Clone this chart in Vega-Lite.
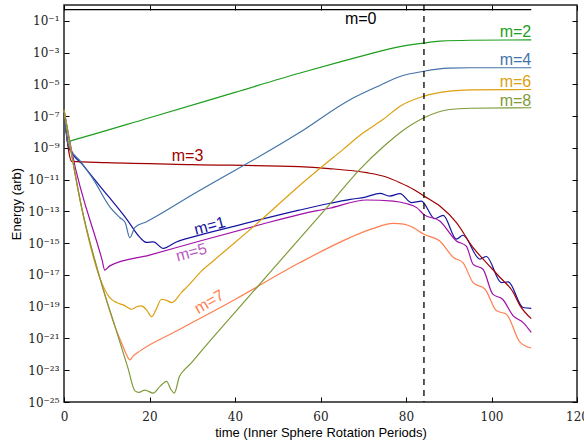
{
  "$schema": "https://vega.github.io/schema/vega-lite/v6.json",
  "width": 513,
  "height": 397,
  "autosize": "none",
  "padding": {"left": 64, "top": 5, "right": 7, "bottom": 43},
  "background": "white",
  "config": {
    "view": {"stroke": "#222222", "strokeWidth": 1.5},
    "axis": {
      "domain": false,
      "grid": false,
      "tickColor": "black",
      "tickWidth": 1,
      "tickSize": -5,
      "labelFlush": false,
      "labelFont": "DejaVu Serif",
      "labelFontSize": 12,
      "labelColor": "#222222",
      "titleFont": "Liberation Sans",
      "titleFontSize": 13,
      "titleFontWeight": "normal",
      "titleColor": "black"
    },
    "text": {"font": "Liberation Sans", "fontSize": 16, "baseline": "middle", "align": "center"}
  },
  "datasets": {
    "lines": [
      {"m": "m=0", "t": 0, "E": 0.513}, {"m": "m=0", "t": 109.3, "E": 0.513},

      {"m": "m=1", "t": 0, "E": 2.51e-7}, {"m": "m=1", "t": 1, "E": 1.26e-9}, {"m": "m=1", "t": 4.5, "E": 7.94e-11},
      {"m": "m=1", "t": 8.4, "E": 3.98e-12}, {"m": "m=1", "t": 14.7, "E": 3.16e-14}, {"m": "m=1", "t": 17.8, "E": 2.24e-15},
      {"m": "m=1", "t": 19.3, "E": 1.12e-15}, {"m": "m=1", "t": 20.9, "E": 1.2e-15}, {"m": "m=1", "t": 23.2, "E": 4.68e-16},
      {"m": "m=1", "t": 26.3, "E": 1.2e-15}, {"m": "m=1", "t": 30.2, "E": 2.51e-15}, {"m": "m=1", "t": 40, "E": 1.2e-14},
      {"m": "m=1", "t": 55, "E": 1.2e-13}, {"m": "m=1", "t": 62, "E": 3.16e-13}, {"m": "m=1", "t": 67, "E": 5.75e-13},
      {"m": "m=1", "t": 70.5, "E": 7.94e-13}, {"m": "m=1", "t": 73.9, "E": 1.38e-12}, {"m": "m=1", "t": 76.2, "E": 9.33e-13},
      {"m": "m=1", "t": 78.6, "E": 1.32e-12}, {"m": "m=1", "t": 81.3, "E": 3.55e-13}, {"m": "m=1", "t": 83.6, "E": 4.47e-13},
      {"m": "m=1", "t": 86.7, "E": 3.55e-14}, {"m": "m=1", "t": 88.7, "E": 5.62e-14}, {"m": "m=1", "t": 91.8, "E": 1.78e-15},
      {"m": "m=1", "t": 93.3, "E": 3.16e-15}, {"m": "m=1", "t": 97.3, "E": 1e-16}, {"m": "m=1", "t": 98.8, "E": 1.45e-16},
      {"m": "m=1", "t": 102.3, "E": 3.31e-18}, {"m": "m=1", "t": 103.9, "E": 3.63e-18}, {"m": "m=1", "t": 107.4, "E": 8.91e-20},
      {"m": "m=1", "t": 109.3, "E": 7.94e-20},

      {"m": "m=2", "t": 0, "E": 2.51e-7}, {"m": "m=2", "t": 1, "E": 2.51e-9}, {"m": "m=2", "t": 1.8, "E": 2.88e-9},
      {"m": "m=2", "t": 20, "E": 7.94e-8},
      {"m": "m=2", "t": 40, "E": 3.16e-6}, {"m": "m=2", "t": 55, "E": 5.01e-5}, {"m": "m=2", "t": 65, "E": 2.82e-4},
      {"m": "m=2", "t": 72, "E": 8.91e-4}, {"m": "m=2", "t": 78, "E": 2.24e-3}, {"m": "m=2", "t": 84, "E": 3.98e-3},
      {"m": "m=2", "t": 88, "E": 5.25e-3}, {"m": "m=2", "t": 95, "E": 6.03e-3}, {"m": "m=2", "t": 109.3, "E": 6.31e-3},

      {"m": "m=3", "t": 0, "E": 2.51e-7}, {"m": "m=3", "t": 1.8, "E": 1.41e-10}, {"m": "m=3", "t": 10, "E": 1.175e-10},
      {"m": "m=3", "t": 30, "E": 8.91e-11}, {"m": "m=3", "t": 55, "E": 6.61e-11}, {"m": "m=3", "t": 62, "E": 5.01e-11},
      {"m": "m=3", "t": 70.8, "E": 2.75e-11}, {"m": "m=3", "t": 75, "E": 1.58e-11}, {"m": "m=3", "t": 78.6, "E": 6.46e-12},
      {"m": "m=3", "t": 81.7, "E": 2.51e-12}, {"m": "m=3", "t": 84.2, "E": 9.33e-13}, {"m": "m=3", "t": 87.9, "E": 2.19e-13},
      {"m": "m=3", "t": 91.8, "E": 2.0e-14}, {"m": "m=3", "t": 95.7, "E": 5.25e-16}, {"m": "m=3", "t": 98.8, "E": 6.03e-17},
      {"m": "m=3", "t": 102, "E": 6.92e-18}, {"m": "m=3", "t": 105.1, "E": 7.94e-19}, {"m": "m=3", "t": 106.6, "E": 1.26e-19},
      {"m": "m=3", "t": 109.3, "E": 1.78e-20},

      {"m": "m=4", "t": 0, "E": 2.51e-7}, {"m": "m=4", "t": 1, "E": 1.58e-9}, {"m": "m=4", "t": 4, "E": 1.26e-10},
      {"m": "m=4", "t": 6.9, "E": 1e-11}, {"m": "m=4", "t": 10.8, "E": 1.78e-13}, {"m": "m=4", "t": 13.1, "E": 3.98e-14},
      {"m": "m=4", "t": 14.3, "E": 2.0e-14}, {"m": "m=4", "t": 15.4, "E": 2.24e-15}, {"m": "m=4", "t": 16.6, "E": 1e-14},
      {"m": "m=4", "t": 19.3, "E": 2.24e-14}, {"m": "m=4", "t": 30, "E": 1.12e-12}, {"m": "m=4", "t": 55, "E": 8.91e-9},
      {"m": "m=4", "t": 67, "E": 1.12e-6}, {"m": "m=4", "t": 74, "E": 8.91e-6}, {"m": "m=4", "t": 78.6, "E": 3.16e-5},
      {"m": "m=4", "t": 84.2, "E": 6.76e-5}, {"m": "m=4", "t": 90, "E": 1.047e-4}, {"m": "m=4", "t": 95, "E": 1.12e-4},
      {"m": "m=4", "t": 109.3, "E": 1.12e-4},

      {"m": "m=5", "t": 0, "E": 2.51e-7}, {"m": "m=5", "t": 1.8, "E": 6.31e-10}, {"m": "m=5", "t": 8.9, "E": 8.91e-17},
      {"m": "m=5", "t": 9.55, "E": 2.0e-17},
      {"m": "m=5", "t": 10.7, "E": 3.72e-17}, {"m": "m=5", "t": 20, "E": 1.78e-16}, {"m": "m=5", "t": 31.8, "E": 1.38e-15},
      {"m": "m=5", "t": 45, "E": 1.26e-14}, {"m": "m=5", "t": 55.2, "E": 6.61e-14}, {"m": "m=5", "t": 62, "E": 1.58e-13},
      {"m": "m=5", "t": 70.8, "E": 5.25e-13}, {"m": "m=5", "t": 77, "E": 4.47e-13}, {"m": "m=5", "t": 80, "E": 3.16e-13},
      {"m": "m=5", "t": 82.5, "E": 1.74e-13}, {"m": "m=5", "t": 84.2, "E": 6.31e-14}, {"m": "m=5", "t": 87.9, "E": 2.51e-14},
      {"m": "m=5", "t": 91.8, "E": 1.38e-15}, {"m": "m=5", "t": 94.1, "E": 6.61e-16}, {"m": "m=5", "t": 95.7, "E": 4.68e-17},
      {"m": "m=5", "t": 98, "E": 2.29e-17}, {"m": "m=5", "t": 100.3, "E": 6.17e-19}, {"m": "m=5", "t": 102.6, "E": 2.95e-19},
      {"m": "m=5", "t": 105.1, "E": 2.63e-20}, {"m": "m=5", "t": 107.4, "E": 1e-20}, {"m": "m=5", "t": 109.3, "E": 2.4e-21},

      {"m": "m=6", "t": 0, "E": 2.51e-7}, {"m": "m=6", "t": 4.2, "E": 1.41e-13}, {"m": "m=6", "t": 8.4, "E": 6.31e-18},
      {"m": "m=6", "t": 9.9, "E": 7.94e-19}, {"m": "m=6", "t": 10.7, "E": 3.8e-19}, {"m": "m=6", "t": 12.3, "E": 1.82e-19},
      {"m": "m=6", "t": 14, "E": 1.26e-19}, {"m": "m=6", "t": 15.8, "E": 6.92e-20}, {"m": "m=6", "t": 17, "E": 1e-19},
      {"m": "m=6", "t": 18.1, "E": 1.12e-19}, {"m": "m=6", "t": 19.3, "E": 6.31e-20}, {"m": "m=6", "t": 20.5, "E": 2.4e-20},
      {"m": "m=6", "t": 21.5, "E": 6.31e-20}, {"m": "m=6", "t": 22.8, "E": 2.95e-19}, {"m": "m=6", "t": 24, "E": 2.51e-19},
      {"m": "m=6", "t": 25.2, "E": 1.82e-19}, {"m": "m=6", "t": 27.5, "E": 7.94e-19}, {"m": "m=6", "t": 29.5, "E": 2.82e-18},
      {"m": "m=6", "t": 31.8, "E": 1.41e-17}, {"m": "m=6", "t": 34.9, "E": 7.59e-17}, {"m": "m=6", "t": 45, "E": 1.58e-14},
      {"m": "m=6", "t": 55.2, "E": 4.47e-12}, {"m": "m=6", "t": 65.3, "E": 8.13e-10}, {"m": "m=6", "t": 70, "E": 8.91e-9},
      {"m": "m=6", "t": 74.7, "E": 6.31e-8}, {"m": "m=6", "t": 78.6, "E": 4.27e-7}, {"m": "m=6", "t": 84.2, "E": 1.82e-6},
      {"m": "m=6", "t": 90.2, "E": 3.72e-6}, {"m": "m=6", "t": 95, "E": 4.47e-6}, {"m": "m=6", "t": 109.3, "E": 4.79e-6},

      {"m": "m=7", "t": 0, "E": 2.51e-7}, {"m": "m=7", "t": 4.2, "E": 1.41e-13}, {"m": "m=7", "t": 8.4, "E": 6.31e-18},
      {"m": "m=7", "t": 12, "E": 5.01e-21}, {"m": "m=7", "t": 13.5, "E": 5.01e-22}, {"m": "m=7", "t": 14.5, "E": 1.12e-22},
      {"m": "m=7", "t": 15.4, "E": 4.47e-23}, {"m": "m=7", "t": 16.2, "E": 7.94e-23}, {"m": "m=7", "t": 17.8, "E": 1.66e-22},
      {"m": "m=7", "t": 27.1, "E": 3.8e-21}, {"m": "m=7", "t": 40, "E": 2.88e-19}, {"m": "m=7", "t": 55.2, "E": 6.03e-17},
      {"m": "m=7", "t": 66.9, "E": 2.24e-15}, {"m": "m=7", "t": 72, "E": 7.94e-15}, {"m": "m=7", "t": 77, "E": 1.78e-14},
      {"m": "m=7", "t": 79.5, "E": 1.58e-14}, {"m": "m=7", "t": 81.7, "E": 9.55e-15}, {"m": "m=7", "t": 84.2, "E": 3.63e-15},
      {"m": "m=7", "t": 87.9, "E": 1.38e-15}, {"m": "m=7", "t": 91.1, "E": 1.26e-16}, {"m": "m=7", "t": 93.3, "E": 6.03e-17},
      {"m": "m=7", "t": 95.7, "E": 3.31e-18}, {"m": "m=7", "t": 98.5, "E": 1.26e-18}, {"m": "m=7", "t": 101.2, "E": 5.5e-20},
      {"m": "m=7", "t": 103.5, "E": 3.39e-20}, {"m": "m=7", "t": 106.6, "E": 6.17e-22}, {"m": "m=7", "t": 109.3, "E": 2.51e-22},

      {"m": "m=8", "t": 0, "E": 2.51e-7}, {"m": "m=8", "t": 4.2, "E": 1.41e-13}, {"m": "m=8", "t": 8.4, "E": 6.31e-18},
      {"m": "m=8", "t": 12, "E": 5.01e-21}, {"m": "m=8", "t": 15, "E": 1.26e-23}, {"m": "m=8", "t": 16.6, "E": 5.01e-25},
      {"m": "m=8", "t": 17.5, "E": 3.98e-25}, {"m": "m=8", "t": 18.9, "E": 5.62e-25}, {"m": "m=8", "t": 20.9, "E": 3.63e-25},
      {"m": "m=8", "t": 22.5, "E": 1e-24}, {"m": "m=8", "t": 24, "E": 2.0e-24}, {"m": "m=8", "t": 25, "E": 6.31e-25},
      {"m": "m=8", "t": 25.8, "E": 3.63e-25}, {"m": "m=8", "t": 27, "E": 3.98e-24}, {"m": "m=8", "t": 28.3, "E": 1.175e-23},
      {"m": "m=8", "t": 29.5, "E": 2.4e-23}, {"m": "m=8", "t": 32.5, "E": 2.14e-22}, {"m": "m=8", "t": 45, "E": 1.51e-18},
      {"m": "m=8", "t": 55, "E": 1.82e-15}, {"m": "m=8", "t": 62, "E": 2.51e-13}, {"m": "m=8", "t": 69.2, "E": 4.47e-11},
      {"m": "m=8", "t": 75, "E": 1.41e-9}, {"m": "m=8", "t": 78.6, "E": 9.12e-9}, {"m": "m=8", "t": 84.2, "E": 7.94e-8},
      {"m": "m=8", "t": 90.2, "E": 2.63e-7}, {"m": "m=8", "t": 95, "E": 3.16e-7}, {"m": "m=8", "t": 109.3, "E": 3.39e-7}
    ],
    "labels": [
      {"m": "m=0", "t": 69.4, "E": 0.138},
      {"m": "m=2", "t": 105.6, "E": 2.07e-2},
      {"m": "m=4", "t": 105.6, "E": 3.55e-4},
      {"m": "m=6", "t": 105.6, "E": 1.51e-5},
      {"m": "m=8", "t": 105.6, "E": 9.55e-7},
      {"m": "m=3", "t": 28.9, "E": 3.02e-10},
      {"m": "m=1", "t": 34.1, "E": 1.2e-14},
      {"m": "m=5", "t": 29.8, "E": 2.57e-16},
      {"m": "m=7", "t": 34, "E": 2.0e-19}
    ],
    "marker": [{"t": 84.2}]
  },
  "layer": [
    {
      "data": {"name": "lines"},
      "mark": {"type": "line", "interpolate": "monotone", "strokeWidth": 1.2},
      "encoding": {
        "x": {"field": "t", "type": "quantitative", "scale": {"domain": [0, 120], "nice": false, "zero": false},
              "axis": {"orient": "bottom", "values": [0, 20, 40, 60, 80, 100, 120], "labelPadding": 14, "title": "time (Inner Sphere Rotation Periods)", "titlePadding": 4}},
        "y": {"field": "E", "type": "quantitative", "scale": {"type": "log", "domain": [1e-25, 1], "nice": false},
              "axis": {"orient": "left", "values": [1e-25, 1e-23, 1e-21, 1e-19, 1e-17, 1e-15, 1e-13, 1e-11, 1e-9, 1e-7, 1e-5, 1e-3, 1e-1],
                       "labelPadding": 10, "title": "Energy (arb)", "titlePadding": 4,
                       "labelExpr": "'10⁻' + (abs(round(log(datum.value)/LN10)) >= 10 ? ['⁰','¹','²','³','⁴','⁵','⁶','⁷','⁸','⁹'][floor(abs(round(log(datum.value)/LN10))/10)] : '') + ['⁰','¹','²','³','⁴','⁵','⁶','⁷','⁸','⁹'][abs(round(log(datum.value)/LN10)) % 10]"}},
        "color": {"field": "m", "type": "nominal",
                  "scale": {"domain": ["m=0", "m=1", "m=2", "m=3", "m=4", "m=5", "m=6", "m=7", "m=8"],
                            "range": ["#000000", "#1414a0", "#1e9e1e", "#a00000", "#4373a8", "#a010a8", "#dca010", "#ff7f50", "#7f9b3a"]},
                  "legend": null}
      }
    },
    {
      "data": {"name": "marker"},
      "mark": {"type": "rule", "strokeDash": [6, 5], "strokeWidth": 1.3, "color": "black"},
      "encoding": {
        "x": {"field": "t", "type": "quantitative",
              "axis": {"orient": "top", "values": [0, 20, 40, 60, 80, 100, 120], "labels": false, "title": null}}
      }
    },
    {
      "data": {"name": "labels"},
      "transform": [{"filter": {"field": "m", "oneOf": ["m=0", "m=2", "m=3", "m=4", "m=6", "m=8"]}}],
      "mark": {"type": "text"},
      "encoding": {
        "x": {"field": "t", "type": "quantitative", "axis": null},
        "y": {"field": "E", "type": "quantitative",
              "axis": {"orient": "right", "values": [1e-25, 1e-23, 1e-21, 1e-19, 1e-17, 1e-15, 1e-13, 1e-11, 1e-9, 1e-7, 1e-5, 1e-3, 1e-1], "labels": false, "title": null}},
        "text": {"field": "m"},
        "color": {"field": "m", "type": "nominal", "legend": null}
      }
    },
    {
      "data": {"name": "labels"},
      "transform": [{"filter": {"field": "m", "oneOf": ["m=1"]}}],
      "mark": {"type": "text", "angle": -15},
      "encoding": {
        "x": {"field": "t", "type": "quantitative", "axis": null},
        "y": {"field": "E", "type": "quantitative", "axis": null},
        "text": {"field": "m"},
        "color": {"field": "m", "type": "nominal", "legend": null}
      }
    },
    {
      "data": {"name": "labels"},
      "transform": [{"filter": {"field": "m", "oneOf": ["m=5"]}}],
      "mark": {"type": "text", "angle": -15, "opacity": 0.7},
      "encoding": {
        "x": {"field": "t", "type": "quantitative", "axis": null},
        "y": {"field": "E", "type": "quantitative", "axis": null},
        "text": {"field": "m"},
        "color": {"field": "m", "type": "nominal", "legend": null}
      }
    },
    {
      "data": {"name": "labels"},
      "transform": [{"filter": {"field": "m", "oneOf": ["m=7"]}}],
      "mark": {"type": "text", "angle": -30},
      "encoding": {
        "x": {"field": "t", "type": "quantitative", "axis": null},
        "y": {"field": "E", "type": "quantitative", "axis": null},
        "text": {"field": "m"},
        "color": {"field": "m", "type": "nominal", "legend": null}
      }
    }
  ],
  "resolve": {"axis": {"x": "independent", "y": "independent"}}
}
